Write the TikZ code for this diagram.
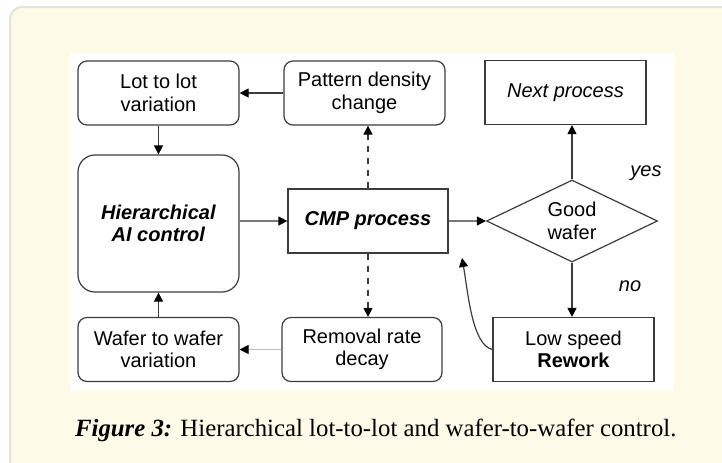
\documentclass[tikz,border=0pt]{standalone}
\usepackage{fontspec}
\setmainfont{Liberation Serif}
\setsansfont{Liberation Sans}
\usepackage{xcolor}
\usetikzlibrary{arrows.meta, positioning, calc, shapes.geometric}
\definecolor{panelbg}{HTML}{FEFAE8}
\definecolor{panelline}{HTML}{E4E4DC}
\definecolor{boxline}{HTML}{3C3C3C}
\definecolor{softline}{HTML}{7A7A7A}
\definecolor{faintline}{HTML}{BDBDBD}

\begin{document}
\begin{tikzpicture}[x=0.5pt, y=-0.5pt,
    every node/.style={font=\sffamily\fontsize{10}{11.2}\selectfont, align=center, text=black},
    blk/.style={draw=boxline, line width=0.6pt, minimum width=80.5pt, minimum height=32pt, inner sep=0pt},
    rblk/.style={blk, rounded corners=4.5pt},
    lbl/.style={font=\sffamily\itshape\fontsize{10}{11.2}\selectfont},
    link/.style={draw=boxline, line width=0.6pt, -{Triangle[length=4.5pt, width=4.5pt, color=black]}}]
  \useasboundingbox (0,0) rectangle (722,462);
  \begin{scope}
    \clip (0,0) rectangle (722,462);
    \draw[panelline, fill=panelbg, line width=1pt, rounded corners=6pt] (10,7) rectangle (760,500);
  \end{scope}
  \fill[white] (70,53) rectangle (674,391);

  \node[rblk] (lot) at (158.5,93) {Lot to lot\\variation};
  \node[rblk] (pattern) at (364.5,93) {Pattern density\\change};
  \node[blk] (next) at (565.5,92.5) {\textit{Next process}};
  \node[rblk, minimum height=68.5pt, rounded corners=8.5pt] (hier) at (158.5,223.5) {\textbf{\textit{Hierarchical}}\\\textbf{\textit{AI control}}};
  \node[blk, minimum width=80pt] (cmp) at (368,221) {\textbf{\textit{CMP process}}};
  \node[draw=boxline, line width=0.6pt, diamond, shape aspect=2, minimum width=85.5pt, minimum height=41pt, inner sep=0pt] (good) at (572,221) {Good\\wafer};
  \node[rblk] (wafer) at (158.5,349.5) {Wafer to wafer\\variation};
  \node[rblk, minimum width=80pt] (removal) at (362,349.5) {Removal rate\\decay};
  \node[blk] (rework) at (573.5,349.5) {Low speed\\\textbf{Rework}};
  \node[lbl] (yes) at (646,173) {yes};
  \node[lbl] (no) at (630,286) {no};
  \coordinate (back) at (462,258);

  \draw[link] (pattern) -- (lot);
  \draw[link] (lot) -- (hier);
  \draw[link, draw=softline] (hier.east |- cmp) -- (cmp.west);
  \draw[link, draw=softline] (cmp) -- (good);
  \draw[link] (good.north) -- (good.north |- next.south);
  \draw[link] (good.south) -- (good.south |- rework.north);
  \draw[link, dashed] (cmp.north) -- (cmp.north |- pattern.south);
  \draw[link, dashed] (cmp.south) -- (cmp.south |- removal.north);
  \draw[link, draw=faintline] (removal) -- (wafer);
  \draw[link] (wafer) -- (hier);
  \draw[link] (rework.west) .. controls (472,345) and (468,292) .. (back);

  \node[anchor=west, font=\rmfamily\fontsize{12.4}{14}\selectfont] (caption) at (68,430) {\textbf{\textit{Figure 3:}} Hierarchical lot-to-lot and wafer-to-wafer control.};
\end{tikzpicture}
\end{document}
